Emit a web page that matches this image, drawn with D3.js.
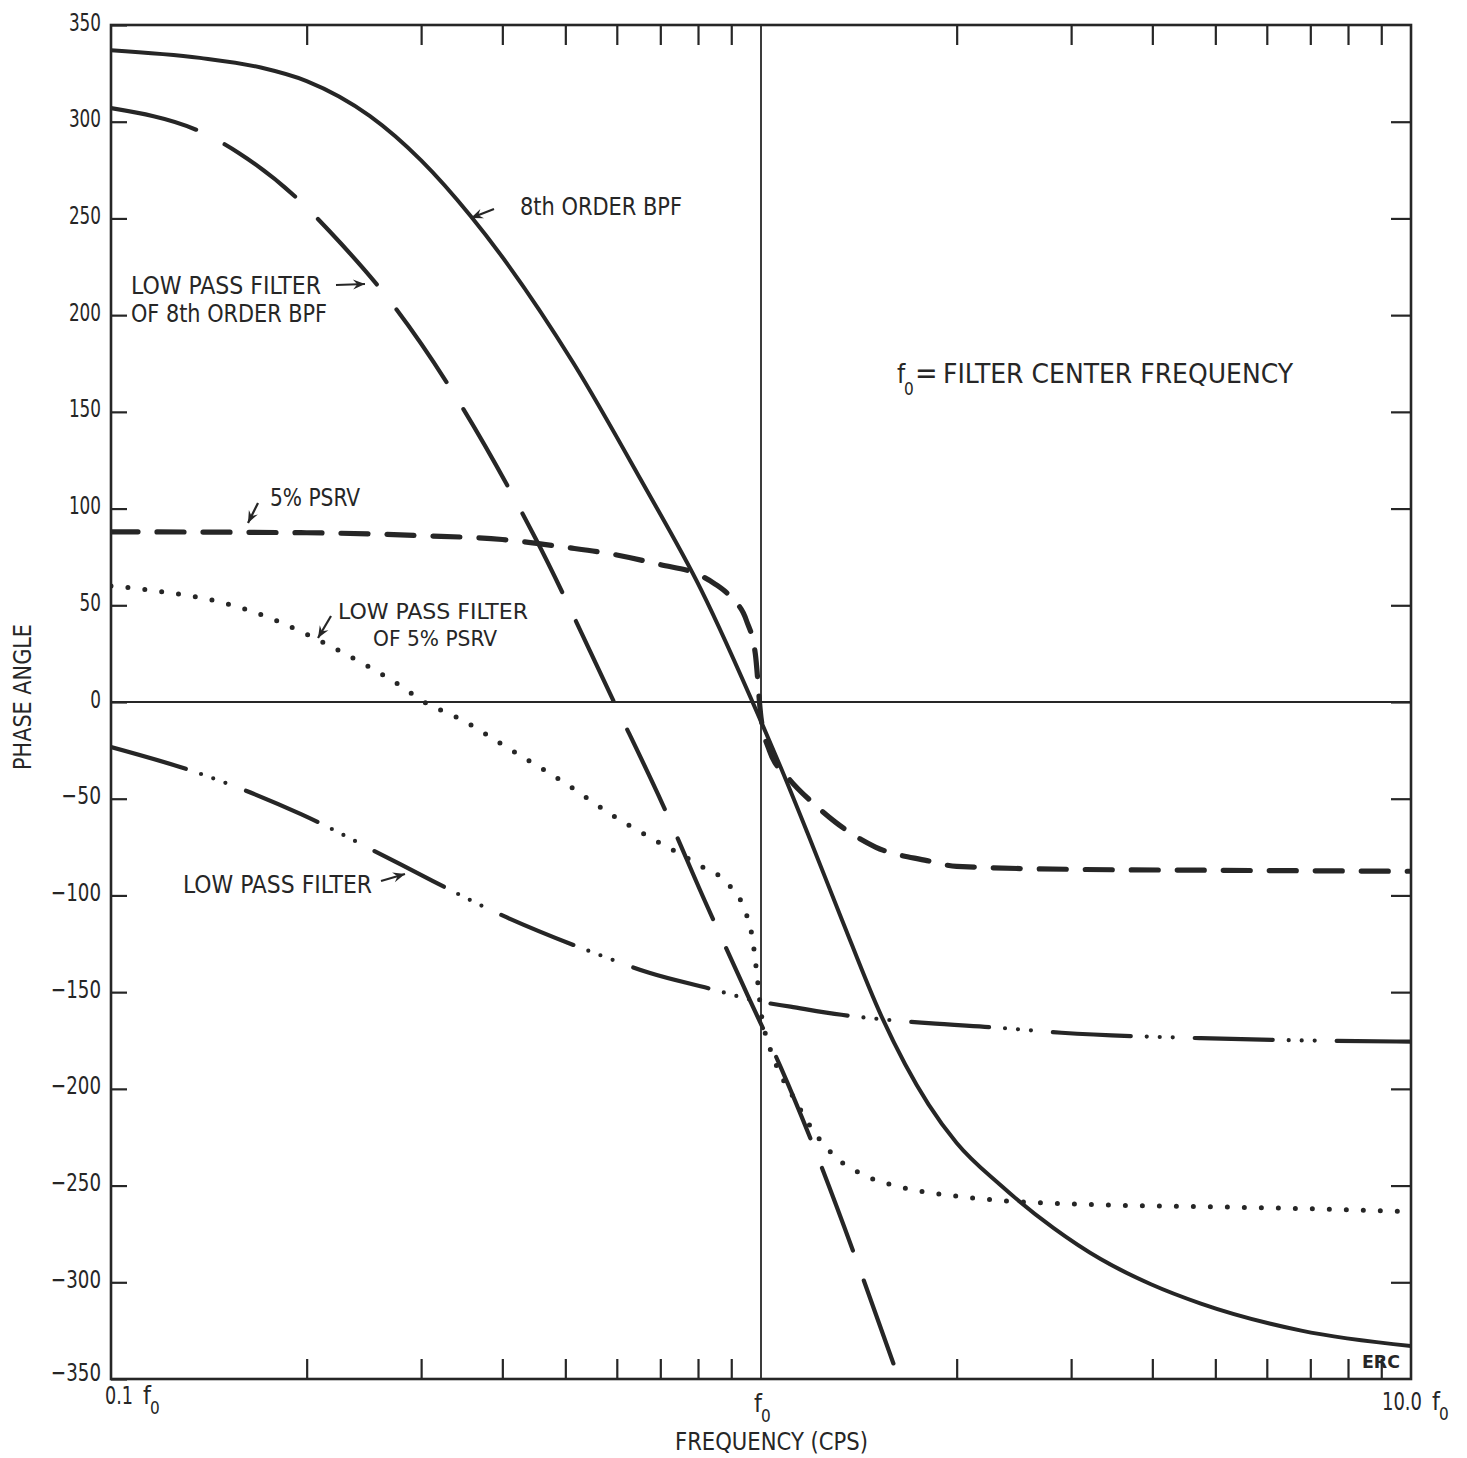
<!DOCTYPE html>
<html>
<head>
<meta charset="utf-8">
<script src="https://cdn.jsdelivr.net/npm/d3@7"></script>
<style>
  body { margin: 0; background: #fff; }
  svg text {
    font-family: "Liberation Sans Narrow", "Arial Narrow", "DejaVu Sans Condensed", "Liberation Sans", sans-serif;
    fill: #262626;
  }
  .frame { fill: none; stroke: #262626; stroke-width: 2.6; }
  .ref { stroke: #262626; stroke-width: 1.8; }
  .tick line { stroke: #262626; stroke-width: 2.2; }
  .curve { fill: none; stroke: #262626; }
</style>
</head>
<body>
<div id="chart"></div>
<script>
// frequency is given as a fraction of the filter center frequency f0, phase in degrees

// 8th order BPF (solid)
const bpfFreq  = [0.1, 0.137, 0.17, 0.2, 0.25, 0.3, 0.358, 0.515, 0.653, 0.809, 1.0, 1.073, 1.18, 1.33, 1.53, 1.81, 2.0, 2.34, 2.82, 3.33, 3.98, 4.75, 6.78, 10];
const bpfPhase = [337, 333, 328, 321, 303, 280, 251, 175, 115, 58, -10, -34, -68, -112, -162, -208, -228, -250, -272, -288, -301, -311, -325, -333];

// low pass filter of 8th order BPF (long dash)
const lpBpfFreq  = [0.1, 0.143, 0.157, 0.196, 0.216, 0.272, 0.45, 0.594, 0.706, 0.82, 0.955, 1.073, 1.63];
const lpBpfPhase = [307, 292, 284, 258.5, 244, 205, 84.5, 0, -53, -103, -152, -189, -350];

// 5% PSRV (dashed)
const psrvFreq  = [0.1, 0.2, 0.3, 0.4, 0.5, 0.6, 0.7, 0.8, 0.85, 0.9, 0.95, 0.98, 1.0, 1.03, 1.1, 1.2, 1.3, 1.5, 1.8, 2.0, 3, 5, 10];
const psrvPhase = [88, 87.5, 86, 84, 80, 76, 71, 66, 61, 54, 42, 25, -8, -25, -39, -52, -62, -75, -82, -85, -86.5, -87, -87.5];

// low pass filter of 5% PSRV (dotted)
const lpPsrvFreq  = [0.1, 0.12, 0.15, 0.18, 0.2, 0.22, 0.25, 0.28, 0.3, 0.35, 0.4, 0.5, 0.6, 0.7, 0.8, 0.9, 0.95, 0.97, 0.985, 1.0, 1.03, 1.07, 1.12, 1.2, 1.3, 1.45, 1.65, 2.0, 2.4, 3, 5, 7, 10];
const lpPsrvPhase = [60, 57, 51, 42, 35, 28, 18, 8, 1, -10, -22, -42, -60, -73, -84, -96, -110, -122, -140, -160, -178, -192, -204, -221, -235, -245, -251, -255.5, -258, -259.5, -261, -262, -263.5];

// low pass filter (dash dot dot)
const lpFreq  = [0.1, 0.137, 0.196, 0.279, 0.398, 0.567, 0.673, 0.83, 1.0, 1.11, 1.33, 1.53, 1.81, 2.34, 2.9, 4.75, 10];
const lpPhase = [-23.3, -37, -58, -84, -110, -131, -140, -148, -155, -157.5, -161.7, -164, -166, -168.5, -171, -173.8, -175.6];

const phaseTicks = d3.range(-350, 351, 50);
const minorFreqTicks = [0.2, 0.3, 0.4, 0.5, 0.6, 0.7, 0.8, 0.9, 2, 3, 4, 5, 6, 7, 8, 9];

const width = 1467;
const height = 1458;
const plot = { left: 111, right: 1411, top: 25, bottom: 1379 };

const svg = d3.select('#chart').append('svg')
  .attr('width', width)
  .attr('height', height);

const x = d3.scaleLog().domain([0.1, 10]).range([plot.left, plot.right]);
const y = d3.scaleLinear().domain([-350, 350]).range([plot.bottom, plot.top]);

svg.append('clipPath').attr('id', 'plot-clip')
  .append('rect')
  .attr('x', plot.left).attr('y', plot.top)
  .attr('width', plot.right - plot.left).attr('height', plot.bottom - plot.top);

// axes with inward ticks
const fmt = d3.format('d');
svg.append('g')
  .attr('transform', `translate(${plot.left},0)`)
  .call(d3.axisLeft(y).tickValues(phaseTicks).tickSizeInner(-16).tickSizeOuter(0).tickPadding(10).tickFormat(fmt))
  .call(g => g.select('.domain').remove())
  .call(g => g.selectAll('text')
    .attr('font-size', 25)
    .attr('fill', '#262626')
    .attr('font-family', null)
    .attr('dy', d => d === -350 ? '0.05em' : '0.2em')
    .attr('textLength', d => String(Math.abs(d)).length * 10.7 + (d < 0 ? 18 : 0))
    .attr('lengthAdjust', 'spacingAndGlyphs'));

svg.append('g')
  .attr('transform', `translate(${plot.right},0)`)
  .call(d3.axisRight(y).tickValues(phaseTicks.slice(1, -1)).tickSizeInner(-20).tickSizeOuter(0).tickFormat(''))
  .call(g => g.select('.domain').remove());

svg.append('g')
  .attr('transform', `translate(0,${plot.top})`)
  .call(d3.axisTop(x).tickValues(minorFreqTicks).tickSizeInner(-20).tickSizeOuter(0).tickFormat(''))
  .call(g => g.select('.domain').remove());

svg.append('g')
  .attr('transform', `translate(0,${plot.bottom})`)
  .call(d3.axisBottom(x).tickValues(minorFreqTicks).tickSizeInner(-20).tickSizeOuter(0).tickFormat(''))
  .call(g => g.select('.domain').remove());

// reference lines at f0 and 0 degrees
svg.append('line').attr('class', 'ref')
  .attr('x1', x(1)).attr('x2', x(1)).attr('y1', plot.top).attr('y2', plot.bottom);
svg.append('line').attr('class', 'ref')
  .attr('x1', plot.left).attr('x2', plot.right).attr('y1', y(0)).attr('y2', y(0));

svg.append('rect').attr('class', 'frame')
  .attr('x', plot.left).attr('y', plot.top)
  .attr('width', plot.right - plot.left).attr('height', plot.bottom - plot.top);

// curves
const line = d3.line()
  .x(d => x(d[0]))
  .y(d => y(d[1]))
  .curve(d3.curveMonotoneX);

const series = [
  { freq: bpfFreq, phase: bpfPhase, w: 4, dash: null },
  { freq: lpBpfFreq, phase: lpBpfPhase, w: 4.2, dash: '88,32' },
  { freq: psrvFreq, phase: psrvPhase, w: 5.2, dash: '27,19' },
  { freq: lpPsrvFreq, phase: lpPsrvPhase, w: 5, dash: '0,17' },
  { freq: lpFreq, phase: lpPhase, w: 4.2, dash: '78,16,0,13,0,13,0,22' },
];

svg.append('g').attr('clip-path', 'url(#plot-clip)')
  .selectAll('path')
  .data(series)
  .enter().append('path')
    .attr('class', 'curve')
    .attr('d', s => line(d3.zip(s.freq, s.phase)))
    .attr('stroke-width', s => s.w)
    .attr('stroke-dasharray', s => s.dash)
    .attr('stroke-linecap', 'round');

// annotations
function note(txt, tx, ty, len, size) {
  svg.append('text')
    .attr('x', tx).attr('y', ty)
    .attr('font-size', size || 24)
    .attr('textLength', len)
    .attr('lengthAdjust', 'spacingAndGlyphs')
    .text(txt);
}

function arrow(x1, y1, x2, y2) {
  svg.append('line')
    .attr('x1', x1).attr('y1', y1).attr('x2', x2).attr('y2', y2)
    .attr('stroke', '#262626').attr('stroke-width', 2.2);
  const a = Math.atan2(y2 - y1, x2 - x1);
  const L = 12, W = 5;
  const p = [
    [x2, y2],
    [x2 - L * Math.cos(a) + W * Math.sin(a), y2 - L * Math.sin(a) - W * Math.cos(a)],
    [x2 - L * 0.65 * Math.cos(a), y2 - L * 0.65 * Math.sin(a)],
    [x2 - L * Math.cos(a) - W * Math.sin(a), y2 - L * Math.sin(a) + W * Math.cos(a)],
  ];
  svg.append('path').attr('d', 'M' + p.join('L') + 'Z').attr('fill', '#262626');
}

note('8th ORDER BPF', 520, 215, 162);
arrow(494, 209, 471, 218);

note('LOW PASS FILTER', 131, 294, 190);
note('OF 8th ORDER BPF', 131, 322, 196);
arrow(336, 285, 365, 284);

note('5% PSRV', 270, 506, 90);
arrow(258, 503, 248, 523);

note('LOW PASS FILTER', 338, 619, 190, 22);
note('OF 5% PSRV', 373, 646, 124, 22);
arrow(331, 616, 318, 638);

note('LOW PASS FILTER', 183, 893, 189);
arrow(381, 881, 405, 874);

// f0 = filter center frequency
svg.append('text').attr('x', 897).attr('y', 383).attr('font-size', 26).text('f');
svg.append('text').attr('x', 904).attr('y', 395).attr('font-size', 17).text('0');
svg.append('text').attr('x', 915).attr('y', 383).attr('font-size', 30).text('=');
note('FILTER CENTER FREQUENCY', 943, 383, 350, 26);

// axis titles and frequency labels
note('FREQUENCY (CPS)', 675, 1450, 193, 25);

svg.append('text')
  .attr('transform', 'translate(31,697) rotate(-90)')
  .attr('text-anchor', 'middle')
  .attr('font-size', 25)
  .attr('textLength', 146)
  .attr('lengthAdjust', 'spacingAndGlyphs')
  .text('PHASE ANGLE');

const freqLabels = [
  { v: 0.1, pre: '0.1', len: 28, dx: -6, base: 1404 },
  { v: 1, pre: '', len: 0, dx: -7, base: 1412 },
  { v: 10, pre: '10.0', len: 40, dx: -29, base: 1410 },
];
freqLabels.forEach(l => {
  const x0 = x(l.v) + l.dx;
  if (l.pre) {
    svg.append('text')
      .attr('x', x0).attr('y', l.base)
      .attr('font-size', 25)
      .attr('textLength', l.len)
      .attr('lengthAdjust', 'spacingAndGlyphs')
      .text(l.pre);
  }
  const fx = x0 + (l.pre ? l.len + 10 : 0);
  svg.append('text').attr('x', fx).attr('y', l.base).attr('font-size', 25).text('f');
  svg.append('text').attr('x', fx + 7).attr('y', l.base + 10).attr('font-size', 17).text('0');
});

svg.append('text')
  .attr('x', 1362).attr('y', 1368)
  .attr('font-size', 17)
  .attr('font-weight', 'bold')
  .attr('textLength', 38)
  .attr('lengthAdjust', 'spacingAndGlyphs')
  .text('ERC');
</script>
</body>
</html>
